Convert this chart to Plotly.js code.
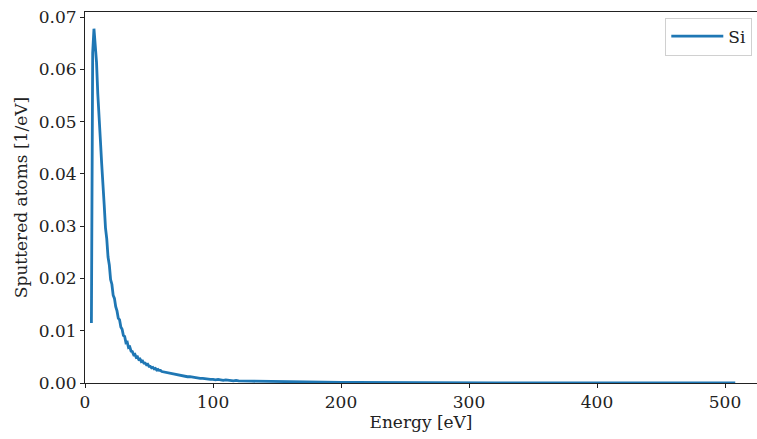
<!DOCTYPE html>
<html>
<head>
<meta charset="utf-8">
<script src="https://cdn.plot.ly/plotly-3.0.1.min.js"></script>
<style>html,body{margin:0;padding:0;background:#fff;}#chart{width:757px;height:439px;}</style>
</head>
<body>
<div id="chart"></div>
<script>
const seriesName = "Si";
const energy = [
  5,6,7,8,9,10,11,12,13,14,15,16,17,18,19,20,21,22,23,24,25,26,27,28,29,30,
  31,32,33,34,35,36,37,38,39,40,41,42,43,44,45,46,47,48,49,50,
  51,52,53,54,55,56,57,58,59,60,
  62,64,66,68,70,72,74,76,78,80,82,84,86,88,90,92,94,96,98,100,
  102,104,106,108,110,112,114,116,118,120,
  130,140,150,160,170,180,190,200,210,220,230,240,250,260,270,280,290,300,
  310,320,330,340,350,360,370,380,390,400,410,420,430,440,450,460,470,480,490,500,508
];
const sputtered = [
  0.0115,0.0632,0.0678,0.0651,0.0614,0.0553,0.0519,0.0466,0.0421,0.0369,0.0341,0.0297,0.0276,0.0241,0.0226,0.0198,0.0189,0.0168,0.0162,0.0146,0.0138,0.0124,0.0121,0.0107,0.0103,0.0091,
  0.0089,0.0077,0.0078,0.0068,0.0069,0.0061,0.0060,0.0054,0.0055,0.0049,0.0050,0.0045,0.0046,0.0041,0.0042,0.0038,0.0038,0.0035,0.0036,0.0032,
  0.0032,0.0029,0.0030,0.0027,0.0028,0.0025,0.0026,0.0024,0.0024,0.0022,
  0.0021,0.0020,0.0018,0.0018,0.0016,0.0016,0.0014,0.0014,0.0013,0.0012,0.0012,0.0011,0.0011,0.0010,0.0009,0.0009,0.0008,0.0008,0.0007,0.0007,
  0.0006,0.0007,0.0006,0.0005,0.0006,0.0005,0.0005,0.0004,0.0005,0.0004,
  0.00035,0.0003,0.00026,0.00022,0.0002,0.00017,0.00015,0.00013,0.00012,0.0001,0.00009,0.00008,0.00007,0.00006,0.00006,0.00005,0.00004,0.00004,
  0.00003,0.00003,0.00003,0.00003,0.00002,0.00002,0.00002,0.00002,0.00002,0.00002,0.00001,0.00001,0.00001,0.00001,0.00001,0.00001,0.00001,0.00001,0.00001,0.00001,0.00001
];
const yTicks = [0,0.01,0.02,0.03,0.04,0.05,0.06,0.07];
const xTicks = [0,100,200,300,400,500];

const font = "DejaVu Serif";
const trace = {
  x: energy, y: sputtered, type: 'scatter', mode: 'lines', name: seriesName,
  line: {color: '#1f77b4', width: 2.8}
};
const layout = {
  width: 757, height: 439,
  margin: {l: 85, r: 0, t: 12, b: 56},
  paper_bgcolor: '#fff', plot_bgcolor: '#fff',
  font: {family: font, size: 17, color: '#222'},
  showlegend: true,
  legend: {x: 0.993, y: 0.985, xanchor: 'right', yanchor: 'top',
    bordercolor: '#d0d0d0', borderwidth: 1, bgcolor: '#fff', itemwidth: 52,
    font: {family: font, size: 17, color: '#222'}},
  xaxis: {
    range: [0, 525], tickvals: xTicks, ticktext: xTicks.map(String),
    showgrid: false, zeroline: false, showline: true, linecolor: '#222', linewidth: 1,
    mirror: true, ticks: 'outside', ticklen: 4, tickcolor: '#222',
    tickfont: {family: font, size: 17},
    title: {text: 'Energy [eV]', font: {family: font, size: 17}, standoff: 4}
  },
  yaxis: {
    range: [0, 0.071], tickvals: yTicks, ticktext: yTicks.map(v => v.toFixed(2)),
    showgrid: false, zeroline: false, showline: true, linecolor: '#222', linewidth: 1,
    ticks: 'outside', ticklen: 4, tickcolor: '#222',
    tickfont: {family: font, size: 17},
    title: {text: 'Sputtered atoms [1/eV]', font: {family: font, size: 17}, standoff: 6}
  }
};
Plotly.newPlot('chart', [trace], layout, {displayModeBar: false, staticPlot: true});
</script>
</body>
</html>
